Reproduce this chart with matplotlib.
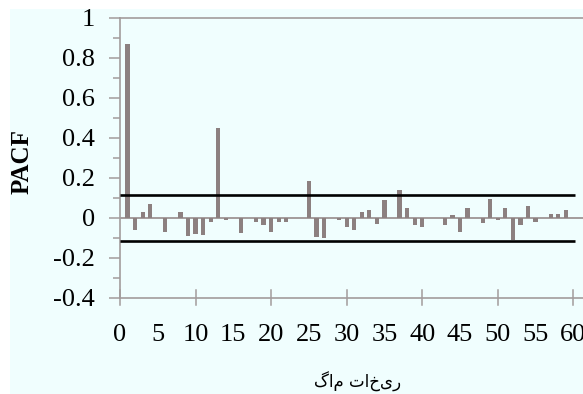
import numpy as np
import matplotlib
matplotlib.use('Agg')
import matplotlib.pyplot as plt
from matplotlib.patches import Rectangle
from matplotlib.ticker import MultipleLocator

lags = np.arange(1, 61)
pacf = [0.87, -0.06, 0.03, 0.07, 0.0, -0.07, 0.0, 0.03, -0.09, -0.08,
        -0.085, -0.02, 0.45, -0.01, 0.0, -0.075, 0.0, -0.02, -0.035, -0.07,
        -0.02, -0.02, 0.0, 0.0, 0.185, -0.093, -0.1, 0.0, -0.01, -0.043,
        -0.062, 0.032, 0.038, -0.03, 0.09, 0.0, 0.142, 0.052, -0.036, -0.043,
        0.0, 0.0, -0.035, 0.013, -0.07, 0.052, 0.0, -0.023, 0.095, -0.01,
        0.052, -0.11, -0.035, 0.06, -0.022, 0.0, 0.02, 0.02, 0.038, 0.0]
conf = 0.113
xticks = np.arange(0, 61, 5)
yticks = np.round(np.arange(-0.4, 1.01, 0.2), 1)

bg = '#F0FEFE'
axcol = '#A39C9C'
barcol = '#8C8080'
serif = 'Liberation Serif'

fig = plt.figure(figsize=(5.83, 3.94), dpi=100)
fig.patch.set_facecolor('white')
fig.add_artist(Rectangle((10 / 583, 0), 1, 1 - 9 / 394, transform=fig.transFigure,
                         facecolor=bg, edgecolor='none', zorder=-10))

ax = fig.add_axes([120 / 583, 1 - 298 / 394, 1 - 120 / 583, (298 - 18) / 394])
ax.set_facecolor(bg)
ax.bar(lags, pacf, width=0.55, color=barcol, zorder=2)
ax.axhline(0, color=axcol, lw=1.4, zorder=1)
ax.hlines([conf, -conf], 0, 60.2, color='black', lw=1.9, zorder=3)

ax.set_xlim(0, 61.28)
ax.set_ylim(-0.4, 1.0)
# labels every 5, long crossing ticks every 10, short ticks in between
ax.set_xticks(xticks, [str(t) for t in xticks])
ax.set_xticks(np.arange(5, 61, 10), minor=True)
ax.set_yticks(yticks, ['0' if t == 0 else ('1' if t == 1 else f'{t:g}') for t in yticks])
ax.yaxis.set_minor_locator(MultipleLocator(0.1))

for s in ['left', 'bottom', 'top']:
    ax.spines[s].set_color(axcol)
    ax.spines[s].set_linewidth(1.2)
ax.spines['right'].set_visible(False)

ax.tick_params(axis='y', which='major', direction='out', length=8, width=1.1,
               color=axcol, pad=10, labelsize=19)
ax.tick_params(axis='y', which='minor', direction='out', length=5, width=1.1, color=axcol)
ax.tick_params(axis='x', which='major', direction='out', length=0, width=1.1,
               color=axcol, pad=19, labelsize=19)
ax.tick_params(axis='x', which='minor', direction='out', length=5, width=1.1, color=axcol)
for t in [0, 10, 20, 30, 40, 50, 60]:
    ax.plot([t, t], [-0.4 - 0.035, -0.4 + 0.04], color=axcol, lw=1.1, clip_on=False, zorder=4)
for lab in ax.get_xticklabels() + ax.get_yticklabels():
    lab.set_fontfamily(serif)

fig.text(22 / 583, 1 - 162 / 394, 'PACF', fontfamily=serif, fontsize=18,
         fontweight='bold', rotation=90, ha='center', va='center')
fig.text(358 / 583, 1 - 382 / 394, 'گام تاخیر', fontsize=12,
         fontfamily=['DejaVu Sans'], ha='center', va='center')

fig.savefig('out.png', dpi=100, facecolor=fig.get_facecolor())
